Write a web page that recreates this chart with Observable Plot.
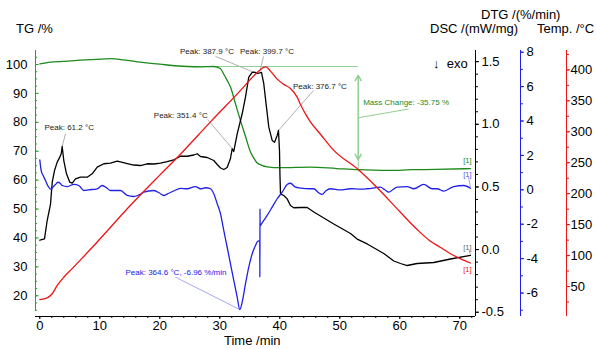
<!DOCTYPE html>
<html><head><meta charset="utf-8">
<script src="https://cdn.jsdelivr.net/npm/d3@7"></script>
<script src="https://cdn.jsdelivr.net/npm/@observablehq/plot@0.6"></script>
<style>
body{margin:0;background:#fff;}
#wrap{position:relative;width:596px;height:349px;font-family:"Liberation Sans",Arial,sans-serif;}
#wrap svg{position:absolute;left:0;top:0;}
.t{position:absolute;white-space:nowrap;font-size:13px;line-height:13px;color:#000;}
</style></head><body>
<div id="wrap">
  <div class="t" style="left:16px;top:22px">TG /%</div>
  <div class="t" style="left:481px;top:8px">DTG /(%/min)</div>
  <div class="t" style="left:430px;top:22px">DSC /(mW/mg)</div>
  <div class="t" style="left:537px;top:22px">Temp. /°C</div>
  <div class="t" style="left:433px;top:57px">↓&nbsp; exo</div>
  <div class="t" style="left:224px;top:335.5px;line-height:10px">Time /min</div>
</div>
<script>
// ---- data (time in min, value in axis units) ----
const tgSeries = [[0,100.2],[1.78,100.8],[4,101.1],[6.78,101.5],[9.5,101.8],[11.8,102.0],[14,101.6],[16.8,100.8],[20,100.1],[24.6,99.3],[27,99.2],[29.0,99.3],[30.1,98.6],[30.6,96.9],[31.2,94.6],[31.8,92.1],[32.6,86.5],[33.45,80.6],[34.3,75.0],[35.1,69.8],[35.7,67.5],[36.2,66.0],[37.0,65.1],[37.9,64.6],[40.1,64.3],[45.1,64.5],[49.5,64.0],[53.07,63.6],[58.2,63.35],[62,63.6],[66,63.7],[71.78,64.0]];

const dscSeries = [[0,0.075],[0.78,0.086],[1.23,0.232],[1.78,0.36],[2.07,0.538],[2.45,0.631],[2.9,0.698],[3.33,0.738],[3.57,0.765],[3.73,0.823],[4.0,0.711],[4.45,0.605],[5.0,0.538],[5.4,0.53],[5.95,0.565],[6.78,0.578],[7.9,0.578],[8.73,0.605],[9.57,0.658],[10.67,0.685],[11.78,0.69],[12.9,0.707],[13.45,0.70],[14.57,0.687],[15.67,0.675],[16.78,0.671],[17.9,0.685],[19.0,0.683],[20.1,0.69],[21.23,0.703],[22.33,0.717],[23.45,0.745],[24.57,0.745],[25.67,0.755],[26.23,0.765],[26.78,0.743],[27.9,0.735],[29.0,0.711],[29.57,0.679],[30.12,0.651],[30.67,0.639],[31.23,0.655],[31.78,0.727],[32.07,0.805],[32.33,0.783],[32.9,0.924],[33.73,1.084],[34.28,1.217],[34.83,1.376],[35.4,1.414],[35.78,1.416],[36.23,1.406],[36.67,1.41],[36.95,1.414],[37.33,1.324],[37.78,1.137],[38.17,0.977],[38.73,0.871],[39.12,0.857],[39.57,0.911],[39.78,0.951],[39.95,0.791],[40.03,0.591],[40.12,0.445],[40.67,0.432],[41.23,0.405],[41.78,0.352],[42.33,0.334],[43.45,0.336],[44.57,0.336],[45.67,0.3],[46.78,0.268],[49.0,0.204],[51.78,0.128],[52.9,0.084],[54.57,0.045],[57.33,-0.031],[59.0,-0.091],[60.12,-0.111],[61.23,-0.127],[62.9,-0.111],[65.67,-0.103],[68.45,-0.075],[71.78,-0.047]];

const dtgSeries = [[0,1.74],[0.23,1.12],[0.6,0.8],[0.95,0.54],[1.4,0.2],[1.85,0.03],[2.3,0.2],[2.62,0.31],[3.0,0.44],[3.4,0.38],[3.73,0.25],[4.57,0.19],[5.67,0.31],[6.5,0.25],[7.33,-0.04],[8.17,0.0],[9.57,0.06],[10.4,0.25],[11.2,0.1],[11.78,-0.04],[13.45,-0.04],[14.57,-0.33],[15.67,-0.39],[16.5,-0.3],[17.33,-0.14],[19.0,-0.04],[20.0,-0.2],[20.67,-0.33],[21.5,-0.2],[22.33,-0.07],[23.45,0.08],[24.57,0.06],[25.95,0.19],[26.78,0.06],[27.62,0.12],[28.45,0.06],[29.0,-0.23],[29.57,-0.81],[30.12,-1.40],[30.67,-2.37],[31.23,-3.34],[31.78,-4.30],[32.33,-5.27],[32.9,-6.24],[33.33,-6.96],[33.73,-6.53],[34.28,-5.47],[34.83,-4.50],[35.4,-3.72],[35.95,-3.24],[36.33,-2.99],[36.66,-2.95],[36.68,-5.08],[36.70,-1.1],[36.72,-2.1],[36.95,-1.98],[37.33,-1.78],[37.9,-1.49],[38.73,-1.01],[39.57,-0.52],[40.4,-0.14],[41.23,0.31],[41.78,0.38],[42.62,0.15],[43.45,0.10],[45.1,0.06],[45.67,0.06],[46.4,-0.15],[47.07,-0.27],[47.7,-0.05],[48.45,0.06],[50.12,0.0],[51.78,0.06],[53.5,0.04],[54.57,0.06],[56.78,0.15],[57.5,0.0],[58.17,-0.14],[59.0,0.05],[59.57,0.15],[61.23,0.19],[62.33,0.06],[64.0,0.31],[65.4,0.06],[66.23,0.06],[67.33,-0.08],[69.0,0.19],[70.67,0.25],[71.78,0.09]];

const tempSeries = [[0,29],[1.23,31.8],[2.07,38.3],[2.9,51.7],[4.0,65],[5.4,79],[6.78,93],[9.57,122],[15,180],[20,230],[23.45,263.8],[28.45,316],[33,362],[36.5,398],[37.3,404],[37.7,405],[38.45,398],[39.57,385],[40.6,377],[41.78,370],[42.9,356],[43.45,344],[44.57,324],[45.1,316],[46.78,296],[49,270],[53.07,239],[56.2,210],[60.1,170],[62.9,142],[65,124],[66.8,113],[68.45,103],[70,95.5],[71.78,88]];

// ticks
const xTicks = [0,10,20,30,40,50,60,70];
const tgTicks = [20,30,40,50,60,70,80,90,100];
const dscTicks = [-0.5,0,0.5,1,1.5];
const dtgTicks = [-6,-4,-2,0,2,4,6,8];
const tempTicks = [50,100,150,200,250,300,350,400];

// annotations
const dscPeaks = [
  {label:"Peak: 61.2 °C",  t:3.73,  v:0.823, lt:0.78,  lv:0.972, st:4.28,  sv:0.924},
  {label:"Peak: 351.4 °C", t:32.07, v:0.807, lt:19.0,  lv:1.070, st:27.95, sv:1.039},
  {label:"Peak: 387.9 °C", t:35.7,  v:1.414, lt:23.37, lv:1.584, st:29.28, sv:1.542},
  {label:"Peak: 399.7 °C", t:36.7,  v:1.426, lt:33.37, lv:1.584, st:37.28, sv:1.542},
  {label:"Peak: 376.7 °C", t:39.78, v:0.951, lt:42.2,  lv:1.306, st:45.62, sv:1.270}
];
const dtgPeak = [{label:"Peak: 364.6 °C, -6.96 %/min", t:33.33, v:-6.96, lt:14.28, lv:-4.826, st:22.62, sv:-5.08}];
const massChange = {label:"Mass Change: -35.75 %", t:53.07, start:99.3, end:63.55, lt:53.9, lv:86.75};

// ---- layout / scales ----
const xDomain = [-0.717, 72.62];
const green = "#1b8a1b", greenAxis = "#22a622", lightGreen = "#93cf93", blue = "#2020e8", red = "#ec1515", gray = "#b0b0b0";
const toObj = a => a.map(([t, v]) => ({t, v}));
const tg = toObj(tgSeries), dsc = toObj(dscSeries), dtg = toObj(dtgSeries), temp = toObj(tempSeries);
const rng = (a, b, s) => d3.range(Math.round(a / s), Math.round(b / s) + 1).map(k => +(k * s).toFixed(3));

function chart(opts) {
  return Plot.plot({
    width: 596, height: 349, marginLeft: 35, marginRight: 121, marginTop: 50, marginBottom: 33,
    style: {background: "transparent", fontFamily: '"Liberation Sans", Arial, sans-serif', fontSize: "13px", overflow: "visible"},
    ...opts
  });
}

const wrap = document.getElementById("wrap");

// TG chart (left axis + time axis)
const tgDomain = [12.83, 104.84];
wrap.appendChild(chart({
  x: {domain: xDomain, label: null},
  y: {domain: tgDomain, label: null},
  marks: [
    Plot.ruleY([tgDomain[0]], {stroke: "black"}),
    Plot.axisX(xTicks, {anchor: "bottom", tickSize: 3, tickPadding: 1, label: null, tickFormat: d => String(d)}),
    Plot.axisX(rng(0, 72, 2), {anchor: "bottom", tickSize: 2, label: null, tickFormat: () => ""}),
    Plot.ruleX([xDomain[0]], {y1: 14.56, y2: 104.84, stroke: greenAxis}),
    Plot.axisY(tgTicks, {anchor: "left", tickSize: 0, tickPadding: 8, label: null, tickFormat: d => String(d)}),
    Plot.ruleY(tgTicks, {x1: xDomain[0], x2: xDomain[0] + 0.6, stroke: greenAxis}),
    Plot.ruleY(rng(15, 102.5, 2.5), {x1: xDomain[0], x2: xDomain[0] + 0.35, stroke: greenAxis}),
    // mass change construction
    Plot.ruleY([massChange.start], {x1: 24, x2: massChange.t, stroke: lightGreen}),
    Plot.arrow([massChange], {x1: "t", y1: 81.4, x2: "t", y2: 96.2, stroke: lightGreen, headLength: 6}),
    Plot.arrow([massChange], {x1: "t", y1: 81.4, x2: "t", y2: 67.1, stroke: lightGreen, headLength: 6}),
    Plot.ruleX([massChange], {x: "t", y1: 67.1, y2: 62.8, stroke: lightGreen}),
    Plot.link([massChange], {x1: "t", y1: 81.56, x2: 61.45, y2: 84.6, stroke: lightGreen}),
    Plot.text([massChange], {x: "lt", y: "lv", text: "label", textAnchor: "start", fontSize: 8, fill: green}),
    Plot.line(tg, {x: "t", y: "v", stroke: green, strokeWidth: 1.3, curve: "monotone-x"}),
    Plot.text([{t: 71.95, v: 66.8}], {x: "t", y: "v", text: () => "[1]", textAnchor: "end", fontSize: 7.5, fill: green})
  ]
}));

// DSC chart (black, first right axis)
const dscDomain = [-0.534, 1.589];
wrap.appendChild(chart({
  x: {domain: xDomain, axis: null, label: null},
  y: {domain: dscDomain, label: null},
  marks: [
    Plot.ruleX([xDomain[1]], {stroke: "black"}),
    Plot.axisY(dscTicks, {anchor: "right", tickSize: 3, tickPadding: 3, label: null, tickFormat: d => d.toFixed(1)}),
    Plot.axisY(rng(-0.5, 1.5, 0.1), {anchor: "right", tickSize: 2, label: null, tickFormat: () => ""}),
    Plot.link(dscPeaks, {x1: "st", y1: "sv", x2: "t", y2: "v", stroke: gray}),
    Plot.text(dscPeaks, {x: "lt", y: "lv", text: "label", textAnchor: "start", fontSize: 8, fill: "#222"}),
    Plot.line(dsc, {x: "t", y: "v", stroke: "black", strokeWidth: 1.3}),
    Plot.link([{a: 71.55, b: 0.0, c: 71.78, d: -0.04}], {x1: "a", y1: "b", x2: "c", y2: "d", stroke: gray}),
    Plot.text([{t: 71.95, v: 0.014}], {x: "t", y: "v", text: () => "[1]", textAnchor: "end", fontSize: 7.5, fill: "#666"})
  ]
}));

// DTG chart (blue, second right axis)
const dtgDomain = [-7.366, 8.099];
wrap.appendChild(chart({
  x: {domain: xDomain, axis: null, label: null},
  y: {domain: dtgDomain, label: null},
  marks: [
    Plot.ruleX([xDomain[1]], {dx: 45, stroke: blue}),
    Plot.axisY(dtgTicks, {anchor: "right", dx: 45, tickSize: 3, tickPadding: 3, stroke: blue, fill: "black", label: null, tickFormat: d => String(d)}),
    Plot.axisY(rng(-7, 8, 1), {anchor: "right", dx: 45, tickSize: 2, stroke: blue, label: null, tickFormat: () => ""}),
    Plot.link(dtgPeak, {x1: "st", y1: "sv", x2: "t", y2: "v", stroke: "#a6a6f2"}),
    Plot.text(dtgPeak, {x: "lt", y: "lv", text: "label", textAnchor: "start", fontSize: 8, fill: blue}),
    Plot.line(dtg, {x: "t", y: "v", stroke: blue, strokeWidth: 1.3, curve: "monotone-x"}),
    Plot.link([{a: 71.45, b: 0.75, c: 71.8, d: 0.12}], {x1: "a", y1: "b", x2: "c", y2: "d", stroke: "#a6a6f2"}),
    Plot.text([{t: 71.95, v: 0.87}], {x: "t", y: "v", text: () => "[1]", textAnchor: "end", fontSize: 7.5, fill: "#5555ee"})
  ]
}));

// Temperature chart (red, third right axis)
const tempDomain = [1.6, 431.3];
wrap.appendChild(chart({
  x: {domain: xDomain, axis: null, label: null},
  y: {domain: tempDomain, label: null},
  marks: [
    Plot.ruleX([xDomain[1]], {dx: 91, stroke: red}),
    Plot.axisY(tempTicks, {anchor: "right", dx: 91, tickSize: 3, tickPadding: 1, stroke: red, fill: "black", label: null, tickFormat: d => String(d)}),
    Plot.axisY(rng(25, 425, 25), {anchor: "right", dx: 91, tickSize: 2, stroke: red, label: null, tickFormat: () => ""}),
    Plot.line(temp, {x: "t", y: "v", stroke: red, strokeWidth: 1.3, curve: "monotone-x"}),
    Plot.text([{t: 71.95, v: 77}], {x: "t", y: "v", text: () => "[1]", textAnchor: "end", fontSize: 7.5, fill: red})
  ]
}));
</script>
</body></html>
